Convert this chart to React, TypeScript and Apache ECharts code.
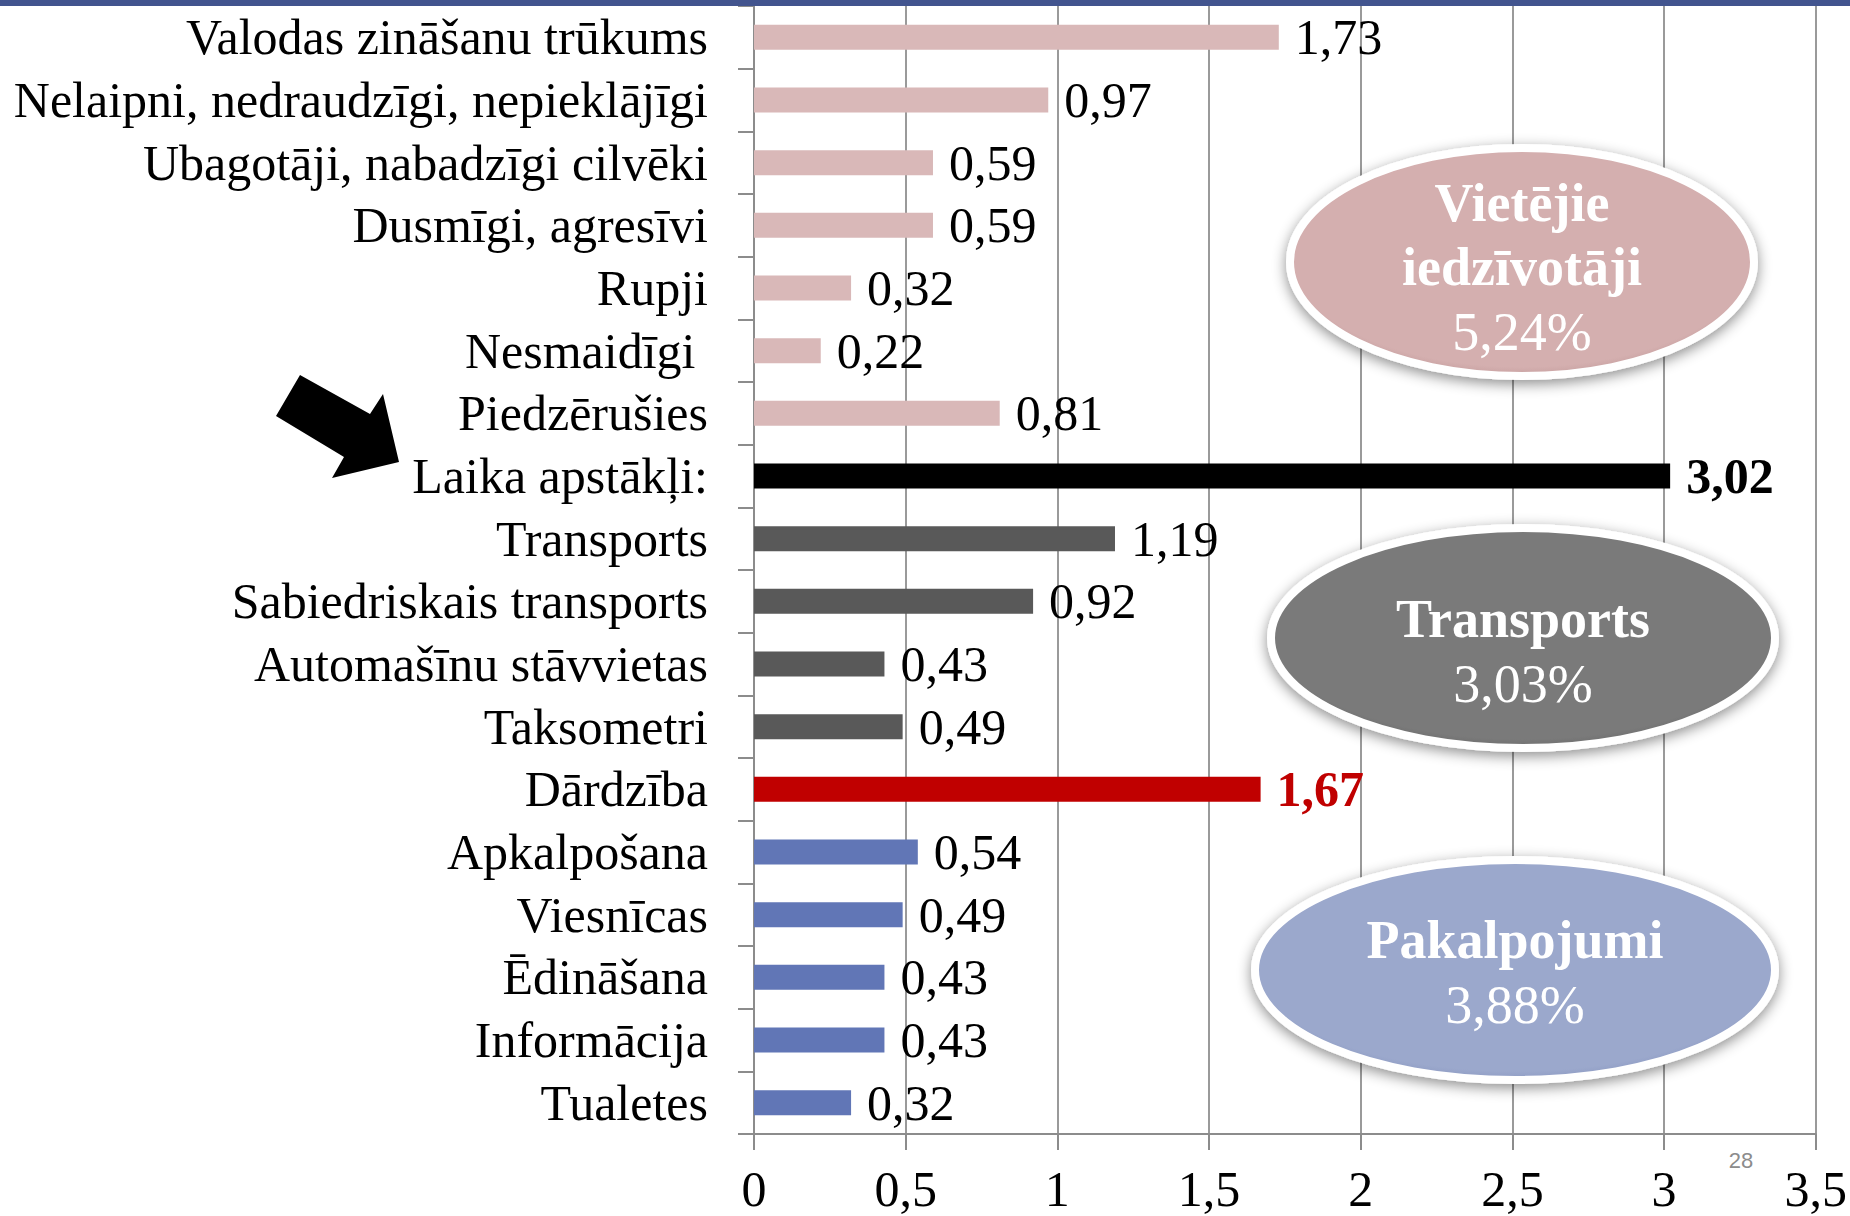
import React, { useEffect, useRef } from "react";
import * as echarts from "echarts";

const categories = [
  "Valodas zināšanu trūkums",
  "Nelaipni, nedraudzīgi, nepieklājīgi",
  "Ubagotāji, nabadzīgi cilvēki",
  "Dusmīgi, agresīvi",
  "Rupji",
  "Nesmaidīgi ",
  "Piedzērušies",
  "Laika apstākļi:",
  "Transports",
  "Sabiedriskais transports",
  "Automašīnu stāvvietas",
  "Taksometri",
  "Dārdzība",
  "Apkalpošana",
  "Viesnīcas",
  "Ēdināšana",
  "Informācija",
  "Tualetes",
];

const values = [1.73, 0.97, 0.59, 0.59, 0.32, 0.22, 0.81, 3.02, 1.19, 0.92, 0.43, 0.49, 1.67, 0.54, 0.49, 0.43, 0.43, 0.32];

const groups = [
  "local", "local", "local", "local", "local", "local", "local",
  "weather",
  "transport", "transport", "transport", "transport",
  "price",
  "service", "service", "service", "service", "service",
];

const xTicks = [0, 0.5, 1, 1.5, 2, 2.5, 3, 3.5];

const groupColors: Record<string, string> = {
  local: "#D9B8B8",
  weather: "#000000",
  transport: "#595959",
  price: "#C00000",
  service: "#6176B6",
};
const groupLabelColors: Record<string, string> = {
  local: "#000000",
  weather: "#000000",
  transport: "#000000",
  price: "#C00000",
  service: "#000000",
};
const boldGroups = ["weather", "price"];

const summaryNames = ["Vietējie\niedzīvotāji", "Transports", "Pakalpojumi"];
const summaryValues = ["5,24%", "3,03%", "3,88%"];

const SERIF = "'Liberation Serif', 'Times New Roman', serif";

function fmt(v: number) {
  return String(v).replace(".", ",");
}

function bubble(cx: number, cy: number, rx: number, ry: number, inner: string, edge: string, title: string, value: string, titleY: number[], valueY: number) {
  const children: any[] = [
    {
      type: "ellipse",
      shape: { cx, cy, rx, ry },
      style: {
        fill: {
          type: "radial",
          x: 0.5,
          y: 0.45,
          r: 0.6,
          colorStops: [
            { offset: 0, color: inner },
            { offset: 0.85, color: inner },
            { offset: 1, color: edge },
          ],
        },
        stroke: "#FFFFFF",
        lineWidth: 8,
        shadowBlur: 14,
        shadowOffsetY: 4,
        shadowColor: "rgba(0,0,0,0.45)",
      },
      z: 10,
    },
  ];
  const lines = title.split("\n");
  lines.forEach((t, i) => {
    children.push({
      type: "text",
      style: {
        text: t,
        x: cx,
        y: titleY[i],
        align: "center",
        verticalAlign: "middle",
        font: `bold 54px ${SERIF}`,
        fill: "#FFFFFF",
      },
      z: 11,
    });
  });
  children.push({
    type: "text",
    style: {
      text: value,
      x: cx,
      y: valueY,
      align: "center",
      verticalAlign: "middle",
      font: `54px ${SERIF}`,
      fill: "#FFFFFF",
    },
    z: 11,
  });
  return { type: "group", children };
}

export default function App() {
  const ref = useRef<HTMLDivElement>(null);

  useEffect(() => {
    if (!ref.current) return;
    const chart = echarts.init(ref.current, undefined, { renderer: "svg" });

    const data = values.map((v, i) => {
      const g = groups[i];
      return {
        value: v,
        itemStyle: { color: groupColors[g] },
        label: {
          color: groupLabelColors[g],
          fontWeight: boldGroups.includes(g) ? "bold" : "normal",
        },
      };
    });

    chart.setOption({
      animation: false,
      backgroundColor: "#FFFFFF",
      grid: { left: 754, right: 32, top: 6, bottom: 82, containLabel: false },
      xAxis: {
        type: "value",
        min: xTicks[0],
        max: xTicks[xTicks.length - 1],
        interval: 0.5,
        axisLine: { show: true, lineStyle: { color: "#8C8C8C", width: 2 } },
        axisTick: { show: true, length: 16, lineStyle: { color: "#8C8C8C", width: 2 } },
        splitLine: { show: true, lineStyle: { color: "#9A9A9A", width: 2 } },
        axisLabel: {
          formatter: (v: number) => fmt(v),
          fontFamily: SERIF,
          fontSize: 50,
          color: "#000000",
          margin: 30,
        },
      },
      yAxis: {
        type: "category",
        data: categories,
        inverse: true,
        axisLine: { show: true, lineStyle: { color: "#8C8C8C", width: 2 } },
        axisTick: { show: true, length: 16, lineStyle: { color: "#8C8C8C", width: 2 } },
        axisLabel: {
          interval: 0,
          fontFamily: SERIF,
          fontSize: 50,
          color: "#000000",
          margin: 46,
        },
        splitLine: { show: false },
      },
      series: [
        {
          type: "bar",
          data,
          barWidth: 25,
          label: {
            show: true,
            position: "right",
            distance: 16,
            fontFamily: SERIF,
            fontSize: 50,
            formatter: (p: any) => Number(p.value).toFixed(2).replace(".", ","),
          },
        },
      ],
      graphic: [
        {
          type: "rect",
          shape: { x: 0, y: 0, width: 1850, height: 6 },
          style: { fill: "#42548E" },
          z: 5,
        },
        {
          type: "polygon",
          shape: {
            points: [
              [300, 375],
              [370, 414],
              [383, 394],
              [399, 462],
              [332, 478],
              [344, 457],
              [276, 416],
            ],
          },
          style: { fill: "#000000" },
          z: 5,
        },
        bubble(1522, 262, 232, 114, "#D4AFAF", "#B89090", summaryNames[0], summaryValues[0], [203, 267], 332),
        bubble(1523, 638, 252, 110, "#7A7A7A", "#5E5E5E", summaryNames[1], summaryValues[1], [619], 684),
        bubble(1515, 970, 260, 110, "#9BA8CC", "#7F8DB8", summaryNames[2], summaryValues[2], [940], 1005),
        {
          type: "text",
          style: {
            text: "28",
            x: 1741,
            y: 1160,
            align: "center",
            verticalAlign: "middle",
            font: "22px 'Liberation Sans Narrow', 'Liberation Sans', sans-serif",
            fill: "#8C8C8C",
          },
          z: 5,
        },
      ],
    });

    return () => chart.dispose();
  }, []);

  return (
    <div
      ref={ref}
      style={{ position: "fixed", left: 0, top: 0, width: 1850, height: 1216, background: "#fff" }}
    />
  );
}
